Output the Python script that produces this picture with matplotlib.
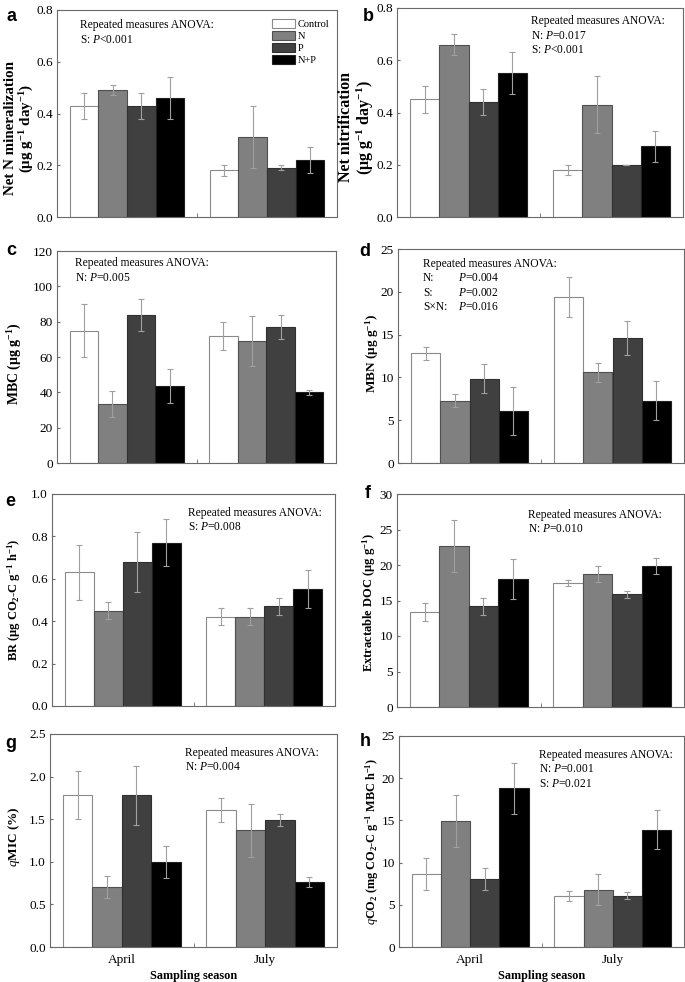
import numpy as np
import matplotlib
matplotlib.use("Agg")
import matplotlib.pyplot as plt
from matplotlib.patches import Patch

plt.rcParams['font.family'] = ['Liberation Serif', 'DejaVu Serif']
plt.rcParams['mathtext.fontset'] = 'custom'
plt.rcParams['mathtext.default'] = 'regular'
plt.rcParams['mathtext.it'] = 'Liberation Serif:italic'
plt.rcParams['mathtext.rm'] = 'Liberation Serif'

seasons = ["April", "July"]
treatments = ["Control", "N", "P", "N+P"]
colors = ["white", "#808080", "#404040", "black"]
edges = ["#8a8a8a", "#505050", "#303030", "#202020"]

# means[season][treatment], errors[season][treatment]
net_min = [[0.43, 0.49, 0.43, 0.46], [0.18, 0.31, 0.19, 0.22]]
net_min_err = [[0.05, 0.02, 0.05, 0.08], [0.02, 0.12, 0.01, 0.05]]
net_nit = [[0.45, 0.66, 0.44, 0.55], [0.18, 0.43, 0.20, 0.27]]
net_nit_err = [[0.05, 0.04, 0.05, 0.08], [0.02, 0.11, 0.0, 0.06]]
mbc = [[75, 33.5, 84, 43.5], [72, 69, 77, 40]]
mbc_err = [[15, 7.5, 9, 9.5], [8, 14, 7, 1.5]]
mbn = [[12.8, 7.3, 9.85, 6.1], [19.4, 10.6, 14.6, 7.3]]
mbn_err = [[0.8, 0.8, 1.7, 2.8], [2.3, 1.1, 2.0, 2.3]]
br = [[0.63, 0.45, 0.68, 0.77], [0.42, 0.42, 0.47, 0.55]]
br_err = [[0.13, 0.04, 0.14, 0.11], [0.04, 0.04, 0.04, 0.09]]
doc = [[13.4, 22.7, 14.2, 18.0], [17.5, 18.7, 15.9, 19.9]]
doc_err = [[1.3, 3.7, 1.2, 2.8], [0.4, 1.1, 0.5, 1.1]]
qmic = [[1.78, 0.70, 1.78, 1.00], [1.61, 1.37, 1.49, 0.76]]
qmic_err = [[0.28, 0.13, 0.35, 0.19], [0.14, 0.31, 0.07, 0.06]]
qco2 = [[8.7, 14.9, 8.1, 18.8], [6.0, 6.8, 6.1, 13.9]]
qco2_err = [[1.9, 3.1, 1.3, 3.0], [0.6, 1.8, 0.4, 2.3]]

W, H = 685, 982
fig = plt.figure(figsize=(W / 100, H / 100), dpi=100)

def add_ax(l, t, r, b):
    return fig.add_axes([l / W, 1 - b / H, (r - l) / W, (b - t) / H])

P = "$\\mathit{P}$"
panels = [
    # letter, data, err, ymax, step, fmt, ylabel, label size, label x, label y,
    # annotation lines, annotation pos, axes rect in pixels
    ("a", net_min, net_min_err, 0.8, 0.2, "%.1f",
     "Net N mineralization\n(μg g$^{-1}$ day$^{-1}$)", 10.8, -0.132, 0.43,
     [("Repeated measures ANOVA:", ""), ("S: " + P + "<0.001", "")], (0.083, 0.955), (57, 10, 337, 217)),
    ("b", net_nit, net_nit_err, 0.8, 0.2, "%.1f",
     "Net nitrification\n(μg g$^{-1}$ day$^{-1}$)", 11.5, -0.14, 0.43,
     [("Repeated measures ANOVA:", ""), ("N: " + P + "=0.017", ""), ("S: " + P + "<0.001", "")],
     (0.47, 0.965), (397, 8, 683, 217)),
    ("c", mbc, mbc_err, 120, 20, "%d",
     "MBC (μg g$^{-1}$)", 10, -0.15, 0.47,
     [("Repeated measures ANOVA:", ""), ("N: " + P + "=0.005", "")], (0.065, 0.97), (57, 251, 336, 463)),
    ("d", mbn, mbn_err, 25, 5, "%d",
     "MBN (μg g$^{-1}$)", 9.5, -0.09, 0.51,
     [("Repeated measures ANOVA:", ""), ("N:", P + "=0.004"), ("S:", P + "=0.002"),
      ("S×N:", P + "=0.016")], (0.088, 0.96), (398, 249, 684, 463)),
    ("e", br, br_err, 1.0, 0.2, "%.1f",
     "BR (μg CO$_2$-C g$^{-1}$ h$^{-1}$)", 9, -0.134, 0.5,
     [("Repeated measures ANOVA:", ""), ("S: " + P + "=0.008", "")], (0.48, 0.94), (52, 494, 335, 706)),
    ("f", doc, doc_err, 30, 5, "%d",
     "Extractable DOC (μg g$^{-1}$)", 9, -0.098, 0.49,
     [("Repeated measures ANOVA:", ""), ("N: " + P + "=0.010", "")], (0.455, 0.93), (397, 494, 684, 707)),
    ("g", qmic, qmic_err, 2.5, 0.5, "%.1f",
     "$\\mathit{q}$MIC (%)", 9.5, -0.125, 0.52,
     [("Repeated measures ANOVA:", ""), ("N: " + P + "=0.004", "")], (0.47, 0.94), (50, 734, 337, 947)),
    ("h", qco2, qco2_err, 25, 5, "%d",
     "$\\mathit{q}$CO$_2$ (mg CO$_2$-C g$^{-1}$ MBC h$^{-1}$)", 8.8, -0.095, 0.5,
     [("Repeated measures ANOVA:", ""), ("N: " + P + "=0.001", ""), ("S: " + P + "=0.021", "")],
     (0.49, 0.94), (399, 736, 684, 947)),
]

letter_pos = {"a": (6, 21), "b": (363, 21), "c": (6, 255), "d": (359, 256), "e": (5, 506),
              "f": (365, 498), "g": (5, 748), "h": (360, 746)}

bw = 0.205
x = np.arange(len(seasons))
frame = "#6a6a6a"
line_h = 14.5  # pixels between annotation lines

for letter, data, err, ymax, step, fmt, ylab, lab_fs, labx, laby, ann, annpos, rect in panels:
    ax = add_ax(*rect)
    data = np.array(data)
    err = np.array(err)
    for j in range(len(treatments)):
        pos = x + (j - 1.5) * bw
        ax.bar(pos, data[:, j], bw, color=colors[j], edgecolor=edges[j], linewidth=0.8,
               label=treatments[j], zorder=2)
        ax.errorbar(pos, data[:, j], yerr=err[:, j], fmt="none", ecolor="#a0a0a0",
                    elinewidth=0.8, capsize=2, capthick=0.8, zorder=3)
    ax.set_xlim(-0.5, 1.5)
    ax.set_ylim(0, ymax)
    ticks = np.arange(0, ymax + step / 2, step)
    ax.set_yticks(ticks)
    ax.set_yticklabels([fmt % t for t in ticks], fontsize=9.5)
    ax.set_xticks([0.5], minor=True)
    ax.tick_params(axis="x", which="minor", direction="in", length=3, color=frame)
    ax.tick_params(axis="y", direction="in", length=2, color=frame, pad=3)
    ax.set_xticks(x)
    if letter in ("g", "h"):
        ax.set_xticklabels(seasons, fontsize=9.5)
        ax.set_xlabel("Sampling season", fontsize=8.8, fontweight="bold", labelpad=3)
    else:
        ax.set_xticklabels([])
    ax.tick_params(axis="x", which="major", length=0, pad=5)
    for s in ax.spines.values():
        s.set_color(frame)
        s.set_linewidth(0.8)
    ax.set_ylabel(ylab, fontsize=lab_fs, fontweight="bold", va="center", ha="center",
                  multialignment="center", linespacing=1.05)
    ax.yaxis.set_label_coords(labx, laby)

    # annotation, one text per line; second column for aligned P values
    ax_h = rect[3] - rect[1]
    ax_w = rect[2] - rect[0]
    for i, (c1, c2) in enumerate(ann):
        yy = annpos[1] - i * line_h / ax_h
        ax.text(annpos[0], yy, c1, transform=ax.transAxes, fontsize=8.3, va="top", ha="left")
        if c2:
            ax.text(annpos[0] + 35 / ax_w, yy, c2, transform=ax.transAxes, fontsize=8.3,
                    va="top", ha="left")

    if letter == "a":
        handles = [Patch(facecolor=colors[j], edgecolor=edges[j], linewidth=0.8)
                   for j in range(len(treatments))]
        ax.legend(handles, treatments, loc="upper right", bbox_to_anchor=(1.0, 0.99),
                  frameon=False, fontsize=7.5, handlelength=2.2, handleheight=0.9,
                  labelspacing=0.2, handletextpad=0.3, borderaxespad=0.3)

    lx, ly = letter_pos[letter]
    fig.text(lx / W, 1 - ly / H, letter, fontsize=13, fontweight="bold",
             family=["Liberation Sans", "DejaVu Sans"], va="baseline", ha="left")

fig.savefig("out.png", dpi=100)
